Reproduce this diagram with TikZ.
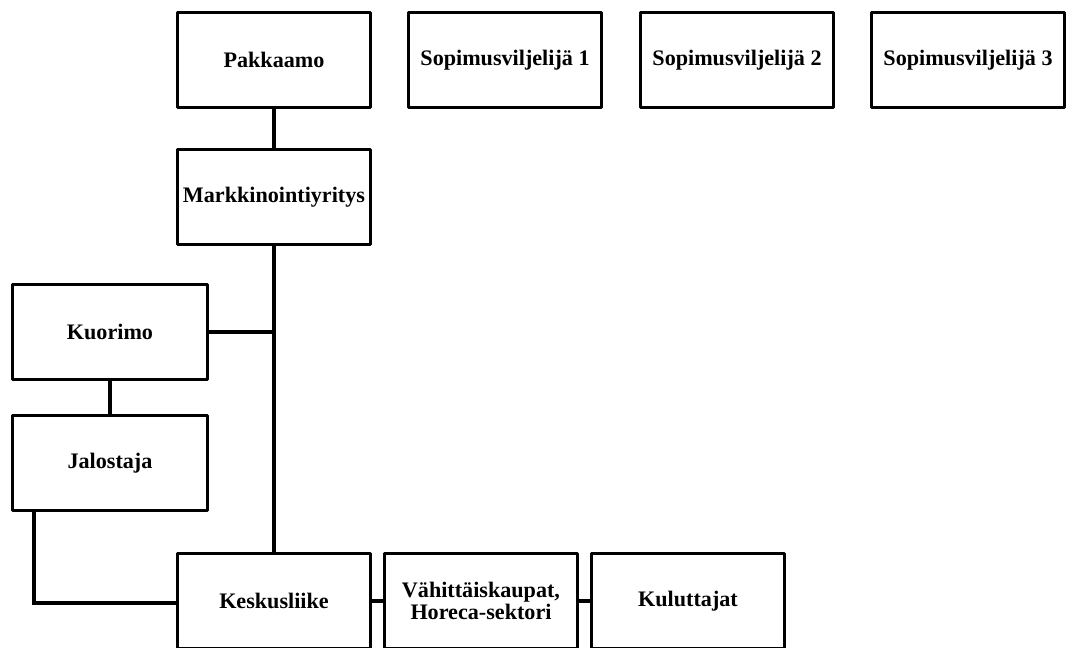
\documentclass[tikz,border=0pt]{standalone}
\usepackage{fontspec}
\setmainfont{Liberation Serif}
\usetikzlibrary{positioning}

\tikzset{
  orgbox/.style={draw,line width=2.2pt,line join=round,minimum width=3.86cm,
    minimum height=1.9cm,inner xsep=1pt,align=center,font=\fontsize{12.6}{13}\selectfont\bfseries},
  link/.style={line width=2.2pt}
}

\begin{document}
\begin{tikzpicture}[x=0.02cm,y=-0.02cm]
\useasboundingbox (0,0) rectangle (1067,648);

% ylin rivi
\node [orgbox] (pakkaamo) at (274,60) {Pakkaamo};
\node [orgbox] (sopimus1) at (505,60) {Sopimusviljelijä 1};
\node [orgbox] (sopimus2) at (737,60) {Sopimusviljelijä 2};
\node [orgbox] (sopimus3) at (968,60) {Sopimusviljelijä 3};

\node [orgbox] (markkinointi) at (274,197) {Markkinointiyritys};

\node [orgbox,minimum width=3.9cm] (kuorimo) at (110,332) {Kuorimo};
\node [orgbox,minimum width=3.9cm] (jalostaja) at (110,463) {Jalostaja};

% alin rivi
\node [orgbox] (keskusliike) at (274,601) {Keskusliike};
\node [orgbox] (vahittais) at (481,601) {Vähittäiskaupat,\\Horeca-sektori};
\node [orgbox] (kuluttajat) at (688,601) {Kuluttajat};

\coordinate (haara) at (274,332);
\coordinate (kulma) at (34,603);

\draw [link] (pakkaamo) -- (markkinointi);
\draw [link] (markkinointi) -- (keskusliike);
\draw [link] (kuorimo) -- (haara);
\draw [link] (kuorimo) -- (jalostaja);
\draw [link] (jalostaja.south -| kulma) -- (kulma) -- (keskusliike.west |- kulma);
\draw [link] (keskusliike) -- (vahittais);
\draw [link] (vahittais) -- (kuluttajat);
\end{tikzpicture}
\end{document}
